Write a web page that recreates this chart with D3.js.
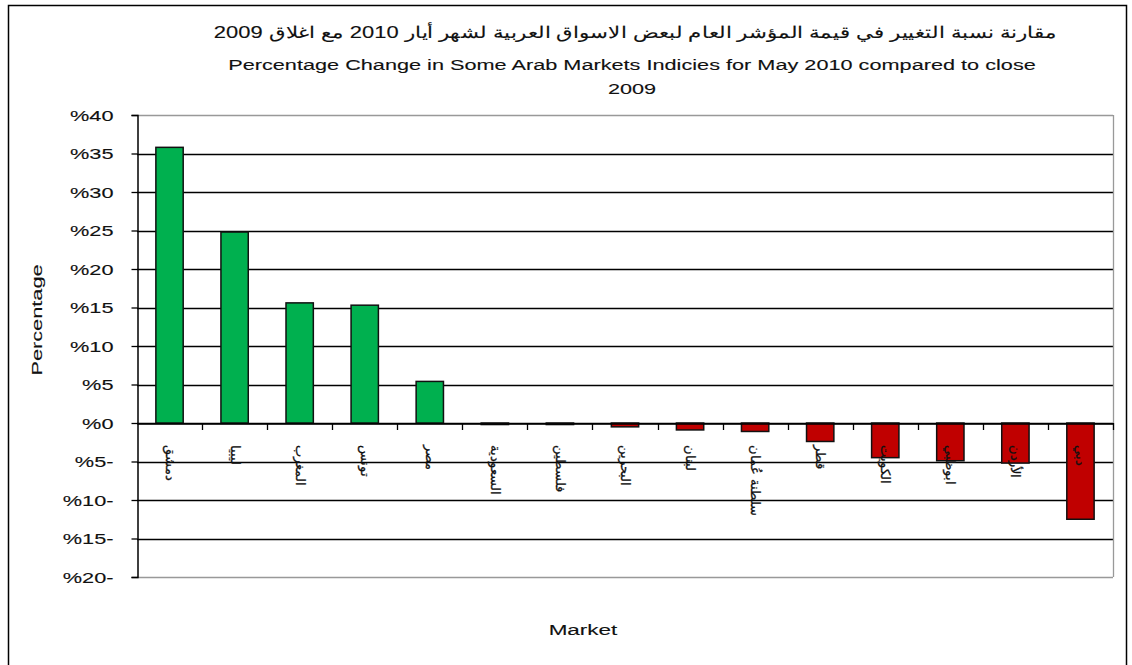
<!DOCTYPE html>
<html><head><meta charset="utf-8">
<script src="https://cdn.jsdelivr.net/npm/d3@7"></script>
<style>html,body{margin:0;padding:0;background:#fff;}svg{display:block;}</style>
</head><body>
<svg id="c" width="1132" height="665"></svg>
<script>
const markets = ["دمشق","ليبيا","المغرب","تونس","مصر","السعودية","فلسطين","البحرين","لبنان","سلطنة عُمان","قطر","الكويت","ابوظبي","الأردن","دبي"];
const changes = [35.8, 24.8, 15.6, 15.3, 5.4, -0.2, -0.2, -0.5, -0.9, -1.1, -2.4, -4.5, -4.9, -5.2, -12.5];
const tickValues = [40,35,30,25,20,15,10,5,0,-5,-10,-15,-20];
const tickLabels = ["%40","%35","%30","%25","%20","%15","%10","%5","%0","%5-","%10-","%15-","%20-"];
const titleAr = "مقارنة نسبة التغيير في قيمة المؤشر العام لبعض الاسواق العربية لشهر أيار 2010 مع اغلاق  2009";
const titleEn1 = "Percentage  Change in Some Arab Markets Indicies for May 2010 compared to close";
const titleEn2 = "2009";

const svg = d3.select("#c");
const font = "'Liberation Sans', Arial, sans-serif";
const ink = "#111";
const sw = 0.12;

// outer frame
svg.append("rect").attr("x",8.5).attr("y",5.5).attr("width",1118).attr("height",665).attr("fill","none").attr("stroke","#000").attr("stroke-width",1.5);

const L = 137, R = 1113, T = 115, B = 577;
const x = d3.scaleBand().domain(markets).range([L, R]).paddingInner(0.58).paddingOuter(0.29);
const xb = d3.scaleBand().domain(markets).range([L, R]).padding(0);
const y = d3.scaleLinear().domain([-20, 40]).range([B, T]);

function label(px, py, sx, rot, txt, size, anchor) {
  const g = svg.append("g").attr("transform", `translate(${px},${py}) rotate(${rot}) scale(${sx},1)`);
  g.append("text").attr("text-anchor", anchor || "middle")
    .attr("font-family", font).attr("font-size", size).attr("fill", ink)
    .attr("stroke", ink).attr("stroke-width", sw)
    .text(txt);
  return g;
}

// gridlines
svg.append("g").selectAll("line").data(tickValues).join("line")
  .attr("x1", L).attr("x2", R)
  .attr("y1", d => Math.round(y(d)) + 0.5).attr("y2", d => Math.round(y(d)) + 0.5)
  .attr("stroke", d => (d === 40 || d === -20) ? "#999" : "#000")
  .attr("stroke-width", 1.3);

// right border
svg.append("line").attr("x1", R+0.5).attr("x2", R+0.5).attr("y1", T).attr("y2", B).attr("stroke","#999").attr("stroke-width",1.3);

// bars
svg.append("g").selectAll("rect").data(changes).join("rect")
  .attr("x", (d,i) => x(markets[i]))
  .attr("width", x.bandwidth())
  .attr("y", d => Math.min(y(d), y(0)))
  .attr("height", d => Math.abs(y(d) - y(0)))
  .attr("fill", d => d >= 0 ? "#00b04f" : "#c00000")
  .attr("stroke", "#111").attr("stroke-width", 1.5);

// y axis
const yAxis = d3.axisLeft(y).tickValues(tickValues).tickSize(6).tickFormat((d,i) => tickLabels[i]);
const gy = svg.append("g").attr("transform", `translate(${L+0.5},0)`).call(yAxis);
gy.select(".domain").attr("stroke","#000").attr("stroke-width",1.5);
gy.selectAll(".tick line").attr("stroke","#000").attr("stroke-width",1.3);
gy.selectAll(".tick text").attr("x", 0).attr("dy","0.36em")
  .attr("transform","translate(-24,0) scale(1.45,1)")
  .attr("font-family", font).attr("font-size", 15).attr("fill", ink)
  .attr("stroke", ink).attr("stroke-width", sw);

// x axis at zero
const xAxis = d3.axisBottom(xb).tickSize(0).tickFormat("");
const gx = svg.append("g").attr("transform", `translate(0,${Math.round(y(0))+0.5})`).call(xAxis);
gx.select(".domain").attr("stroke","#000").attr("stroke-width",1.3);
gx.selectAll(".tick").remove();
// category boundary ticks
svg.append("g").selectAll("line").data(markets.slice(1)).join("line")
  .attr("x1", d => Math.round(xb(d)) + 0.5).attr("x2", d => Math.round(xb(d)) + 0.5)
  .attr("y1", y(0)).attr("y2", y(0) + 7)
  .attr("stroke","#000").attr("stroke-width",1.3);
svg.append("line").attr("x1", R+0.5).attr("x2", R+0.5).attr("y1", y(0)).attr("y2", y(0)+7).attr("stroke","#000").attr("stroke-width",1.3);

// category labels, rotated
svg.append("g").selectAll("text").data(markets).join("text")
  .attr("transform", d => `translate(${xb(d) + xb.bandwidth()/2 - 4},${y(0) + 22}) rotate(90)`)
  .attr("text-anchor","start")
  .attr("font-family", font).attr("font-size", 13).attr("fill", ink)
  .attr("stroke", ink).attr("stroke-width", 0.25)
  .text(d => d);

// titles
label(635, 38, 1.33, 0, titleAr, 16.5);
label(632, 70, 1.4, 0, titleEn1, 15.5);
label(632, 94, 1.4, 0, titleEn2, 15.5);

// axis titles
label(42, 320, 1.45, -90, "Percentage", 15);
label(583, 635, 1.5, 0, "Market", 15);
</script>
</body></html>
